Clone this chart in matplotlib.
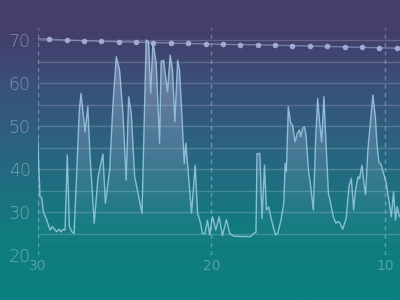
import numpy as np
import matplotlib
matplotlib.use("Agg")
import matplotlib.pyplot as plt
from matplotlib.colors import LinearSegmentedColormap

# ---- data ----
x_days = [30.0, 29.86, 29.76, 29.67, 29.47, 29.28, 29.15, 29.03, 28.90, 28.76,
          28.65, 28.52, 28.42, 28.29, 28.17, 28.03, 27.90, 27.75, 27.60, 27.50,
          27.27, 27.11, 26.98, 26.74, 26.52, 26.24, 26.10, 25.85, 25.66, 25.47,
          25.28, 25.09, 24.90, 24.76, 24.61, 24.41, 24.22, 23.99, 23.75, 23.61,
          23.49, 23.36, 23.17, 22.98, 22.89, 22.75, 22.52, 22.37, 22.23, 22.10,
          21.94, 21.83, 21.70, 21.56, 21.47, 21.37, 21.14, 20.93, 20.79, 20.64,
          20.51, 20.37, 20.22, 20.10, 19.93, 19.74, 19.55, 19.36, 19.13, 18.94,
          18.71, 18.32, 17.94, 17.79, 17.56, 17.43, 17.37, 17.21, 17.08, 16.94,
          16.83, 16.70, 16.51, 16.31, 16.18, 15.99, 15.83, 15.75, 15.68, 15.57,
          15.43, 15.32, 15.18, 15.05, 14.93, 14.86, 14.74, 14.64, 14.55, 14.41,
          14.28, 14.13, 13.99, 13.88, 13.78, 13.65, 13.52, 13.40, 13.26, 13.17,
          12.98, 12.83, 12.69, 12.60, 12.44, 12.24, 12.08, 11.94, 11.81, 11.70,
          11.56, 11.47, 11.33, 11.24, 11.12, 10.99, 10.85, 10.70, 10.56, 10.47,
          10.36, 10.22, 10.09, 9.93, 9.78, 9.64, 9.51, 9.40, 9.30, 9.17, 9.0]
values = [47.5, 33.6, 33.3, 30.1, 28.1, 25.8, 26.6, 26.0, 25.4, 26.0,
          25.4, 26.0, 25.8, 43.3, 26.6, 25.4, 25.0, 39.0, 53.7, 57.6,
          48.7, 54.5, 42.9, 27.4, 38.2, 43.5, 32.0, 39.8, 55.3, 66.1,
          63.0, 53.0, 37.4, 56.8, 53.0, 38.2, 34.3, 29.7, 70.0, 69.6,
          57.6, 69.6, 64.6, 46.0, 65.0, 65.3, 58.0, 66.5, 63.0, 51.0,
          65.3, 63.0, 53.0, 41.3, 46.0, 41.3, 29.7, 40.9, 29.7, 27.7,
          25.0, 25.0, 28.1, 24.7, 28.9, 25.8, 28.9, 24.5, 28.2, 25.0,
          24.4, 24.3, 24.3, 24.2, 25.0, 25.3, 43.6, 43.6, 28.5, 40.9,
          30.5, 31.2, 27.7, 24.7, 25.0, 28.1, 32.0, 41.3, 39.4, 54.5,
          50.6, 50.2, 46.3, 48.3, 49.1, 47.5, 49.5, 49.8, 47.9, 39.8,
          35.9, 30.5, 47.5, 56.4, 51.4, 46.3, 56.8, 46.0, 34.3, 32.8,
          28.9, 27.4, 27.8, 27.4, 26.0, 28.5, 35.9, 37.8, 30.5, 35.1,
          38.2, 37.8, 40.9, 37.4, 34.0, 44.4, 50.6, 57.2, 52.2, 46.0,
          41.7, 40.9, 39.0, 36.7, 32.8, 28.9, 34.7, 28.1, 31.2, 28.9, 30.0]
avg_x = [30.33, 29.33, 28.33, 27.33, 26.33, 25.33, 24.33, 23.33, 22.33, 21.33,
         20.33, 19.33, 18.33, 17.33, 16.33, 15.33, 14.33, 13.33, 12.33, 11.33,
         10.33, 9.33, 8.33]
avg_values = [70.35, 70.2, 70.0, 69.85, 69.7, 69.6, 69.5, 69.4, 69.3, 69.2,
              69.1, 69.0, 68.95, 68.9, 68.8, 68.7, 68.6, 68.5, 68.4, 68.3,
              68.2, 68.1, 68.0]
y_ticks = [20, 30, 40, 50, 60, 70]
y_minor = [25, 35, 45, 55, 65]
x_ticks = [30, 20, 10]
x_ticklabels = ["30", "20", "10"]

X0, X1, Y0, Y1 = 30, 9.14, 20, 72.8

fig = plt.figure(figsize=(4, 3), dpi=100)

# background gradient
bg = fig.add_axes([0, 0, 1, 1], zorder=-10)
bg_cmap = LinearSegmentedColormap.from_list(
    "bg", [(0.0, "#0a807f"), (0.25, "#127a80"), (0.5, "#2a6480"),
           (0.72, "#3a5079"), (0.88, "#433f6c"), (1.0, "#463d6b")])
grad = np.linspace(0, 1, 256).reshape(-1, 1)
bg.imshow(grad, aspect="auto", cmap=bg_cmap, origin="lower", extent=(0, 1, 0, 1))
bg.set_axis_off()

ax = fig.add_axes([0.094, 0.15, 0.906, 0.7567])
ax.set_facecolor("none")
ax.set_xlim(X0, X1)
ax.set_ylim(Y0, Y1)

# grid
ax.set_yticks(y_ticks)
ax.set_yticks(y_minor, minor=True)
ax.grid(axis="y", which="both", color="white", alpha=0.18, linewidth=1.0)
for xv in x_ticks:
    ax.axvline(xv, color="white", alpha=0.3, linewidth=1.0, linestyle=(0, (3, 3)), zorder=1)

# gradient fill under the line
poly = ax.fill_between(x_days, values, Y0, color="none", linewidth=0)
path = poly.get_paths()[0]
fill_grad = np.zeros((256, 2, 4))
a = np.linspace(0, 1, 256)
fill_grad[:, :, :3] = np.array([0.78, 0.82, 0.95])
fill_grad[:, :, 3] = (0.45 * a ** 1.2)[:, None]
im = ax.imshow(fill_grad, aspect="auto", origin="lower",
               extent=(X0, X1, Y0, 70), zorder=2)
im.set_clip_path(path, transform=ax.transData)
ax.set_xlim(X0, X1)
ax.set_ylim(Y0, Y1)

ax.plot(x_days, values, color="#9ccbe3", linewidth=1.0, alpha=0.85, zorder=3)
ax.plot(avg_x, avg_values, color="#a9b2e0", linewidth=1.0, alpha=0.55, zorder=3)
ax.plot(avg_x, avg_values, linestyle="none", marker="o", markersize=4,
        color="#a9b2e0", markeredgewidth=0, alpha=0.9, zorder=4)

for s in ax.spines.values():
    s.set_visible(False)
ax.tick_params(which="both", length=0)
ax.set_yticklabels([str(v) for v in y_ticks], fontsize=12.5, color=(1, 1, 1, 0.38),
                   fontfamily="DejaVu Sans", fontweight="light")
ax.tick_params(axis="y", pad=5)
ax.set_xticks(x_ticks)
ax.set_xticklabels(x_ticklabels, fontsize=10, color=(1, 1, 1, 0.28))
ax.tick_params(axis="x", pad=3)

fig.savefig("out.png", dpi=100)
